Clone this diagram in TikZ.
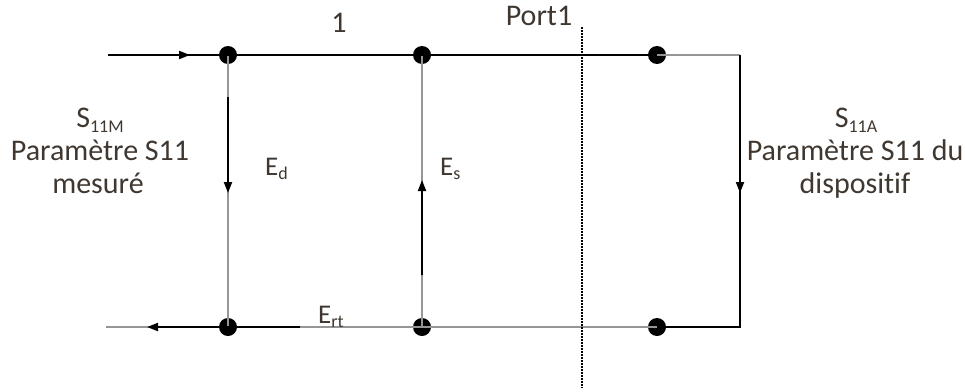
\documentclass[tikz,border=0pt]{standalone}
\usepackage{fontspec}
\setmainfont{Carlito}[Ligatures=CommonOff]
\usetikzlibrary{arrows.meta}
\definecolor{txt}{RGB}{64,56,48}
\definecolor{gline}{RGB}{150,150,150}
\tikzset{
  dot/.style={circle,fill=black,inner sep=0pt,minimum size=18pt},
  bl/.style={black,line width=2pt},
  gl/.style={gline,line width=2pt},
  arr/.style={-{Triangle[length=11pt,width=8pt]}},
  lbl/.style={text=txt,font=\fontsize{30}{33}\selectfont,inner sep=0pt,anchor=base},
  elbl/.style={text=txt,font=\fontsize{27}{30}\selectfont,inner sep=0pt,anchor=base west},
  portline/.style={black,line width=1.6pt,dash pattern=on 1.6pt off 1.4pt},
}
\newcommand{\subtx}[1]{\raisebox{-0.35ex}{\fontsize{18}{18}\selectfont #1}}
\begin{document}
\begin{tikzpicture}[x=1pt,y=-1pt]
\useasboundingbox (0,0) rectangle (965,391);
% dots
\node[dot] (t1) at (228,55) {};
\node[dot] (t2) at (422,55) {};
\node[dot] (t3) at (657,55) {};
\node[dot] (b1) at (228,327) {};
\node[dot] (b2) at (422,327) {};
\node[dot] (b3) at (657,327) {};
% free ends and breakpoints
\coordinate (in) at (108,55);
\coordinate (inarr) at (190,55);
\coordinate (out) at (106,327);
\coordinate (outarr) at (147,327);
\coordinate (ct) at (740,55);
\coordinate (cb) at (740,327);
\coordinate (ertend) at (300,327);
\coordinate (edstart) at (228,97);
\coordinate (edarr) at (228,193);
\coordinate (esstart) at (422,275);
\coordinate (esarr) at (422,180);
\coordinate (sastart) at (740,95);
\coordinate (saarr) at (740,193);
\coordinate (ptop) at (582,27);
\coordinate (pbot) at (582,388);
% gray lines
\draw[gl] (t1.center) -- (b1.center);
\draw[gl] (t2.center) -- (b2.center);
\draw[gl] (t3.center) -- (ct);
\draw[gl] (ertend) -- (b2.center) -- (b3.center);
\draw[gl] (out) -- (b1.center);
% black lines
\draw[bl] (in) -- (t1.center) -- (t2.center) -- (t3.center);
\draw[bl,arr] (in) -- (inarr);
\draw[bl] (b1.center) -- (ertend);
\draw[bl,arr] (b1.center) -- (outarr);
\draw[bl] (b3.center) -- (cb) -- (ct);
\draw[bl,arr] (edstart) -- (edarr);
\draw[bl,arr] (esstart) -- (esarr);
\draw[bl,arr] (sastart) -- (saarr);
% port line
\draw[portline] (ptop) -- (pbot);
% labels
\node[lbl] (one) at (339,32) {1};
\node[lbl] (port) at (539,25) {Port1};
\node[elbl] (ed) at (265,175) {E\subtx{d}};
\node[elbl] (es) at (440,175) {E\subtx{s}};
\node[elbl] (ert) at (318,323) {E\subtx{rt}};
\node[lbl] (l1) at (100,127) {S\subtx{11M}};
\node[lbl] (l2) at (100,160) {Paramètre S11};
\node[lbl] (l3) at (98,193) {mesuré};
\node[lbl] (r1) at (856,127) {S\subtx{11A}};
\node[lbl] (r2) at (855,160) {Paramètre S11 du};
\node[lbl] (r3) at (855,193) {dispositif};
\end{tikzpicture}
\end{document}
